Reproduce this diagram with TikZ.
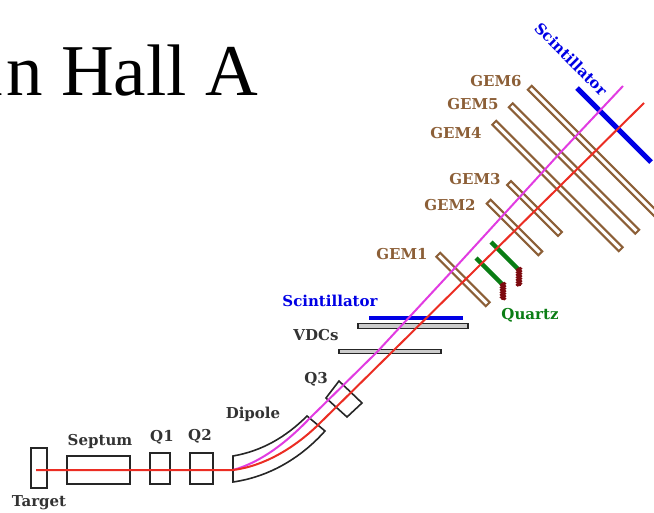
\documentclass[tikz,border=0pt]{standalone}
\usepackage{fontspec}
\setmainfont{Liberation Serif}
\newfontfamily\labelfont{DejaVu Serif}
\usetikzlibrary{decorations.pathmorphing}
\definecolor{gembrown}{RGB}{140,95,55}
\definecolor{quartzgreen}{RGB}{10,125,20}
\definecolor{beamred}{RGB}{235,45,35}
\definecolor{beammag}{RGB}{225,60,225}
\definecolor{pmtred}{RGB}{125,10,15}
\tikzset{
  mag/.style={draw=black!85,line width=1.6pt,fill=none},
  lab/.style={font=\labelfont\bfseries\fontsize{15}{16}\selectfont,inner sep=0pt,text=black!80},
  gem/.style={draw=gembrown,line width=2pt,fill=white,rotate=-45,minimum height=5.5pt,inner sep=0pt},
  vdc/.style={draw=black!85,line width=1.3pt,fill=black!20,minimum height=4.5pt,inner sep=0pt},
  scint/.style={draw=blue!90!black,line width=4pt},
  quartz/.style={draw=quartzgreen,line width=4.5pt},
  pmt/.style={draw=pmtred,line width=3.5pt,decorate,decoration={zigzag,amplitude=.8pt,segment length=2.5pt}},
}
\begin{document}
\begin{tikzpicture}[x=1pt,y=-1pt]
 \useasboundingbox (0,0) rectangle (654,513);

 \node[anchor=base east,inner sep=0pt,font=\fontsize{73}{73}\selectfont] (title) at (258,96) {a\kern3pt n Hall A};

 % beamline magnets
 \draw[mag] (31,448) rectangle (47,488);
 \draw[mag] (67,456) rectangle (130,484);
 \draw[mag] (150,453) rectangle (170,484);
 \draw[mag] (190,453) rectangle (213,484);
 \draw[mag] (233,456) .. controls (262,451) and (286,437) .. (307,416) -- (325,431)
    .. controls (300,459) and (268,477) .. (233,482) -- cycle;
 \draw[mag] (339,381) -- (362,403) -- (347,417) -- (326,398) -- cycle;

 % detectors
 \node[vdc,minimum width=110pt] (vdc1) at (413,326) {};
 \node[vdc,minimum width=102pt] (vdc2) at (390,351.5) {};
 \node[gem,minimum width=70pt] (gem1) at (463,279.5) {};
 \node[gem,minimum width=73pt] (gem2) at (514.5,227.5) {};
 \node[gem,minimum width=72pt] (gem3) at (534.5,208.5) {};
 \node[gem,minimum width=179pt] (gem4) at (557.5,186) {};
 \node[gem,minimum width=179pt] (gem5) at (574,168.5) {};
 \node[gem,minimum width=179pt] (gem6) at (593,151) {};

 \draw[scint] (369,318) -- (463,318);
 \draw[scint,line width=5pt] (577,88) -- (651,162);
 \draw[quartz] (476,258) -- (503,285);
 \draw[quartz] (491,242) -- (519,270);
 \draw[pmt] (503,283) -- (503,300);
 \draw[pmt] (519,268) -- (519,286);

 % beams
 \draw[beammag,line width=2pt] (233,470) .. controls (262,462) and (288,441) .. (310,418) -- (377,352) -- (453,270) -- (560,153) -- (623,86);
 \draw[beamred,line width=2pt] (36,470) -- (233,470) .. controls (265,466) and (295,447) .. (317,426) -- (392,352) -- (644,103);

 % labels
 \node[lab] (target) at (39,503) {Target};
 \node[lab] (septum) at (100,441) {Septum};
 \node[lab] (qone) at (162,437) {Q1};
 \node[lab] (qtwo) at (200,436) {Q2};
 \node[lab] (dipole) at (253,414) {Dipole};
 \node[lab] (qthree) at (316,379) {Q3};
 \node[lab] (vdcs) at (316,335) {VDCs};
 \node[lab,text=blue!90!black] (scintlow) at (330,301) {Scintillator};
 \node[lab,text=quartzgreen] (quartzlab) at (530,315) {Quartz};
 \node[lab,text=gembrown] (gemone) at (402,254) {GEM1};
 \node[lab,text=gembrown] (gemtwo) at (450,205) {GEM2};
 \node[lab,text=gembrown] (gemthree) at (475,179) {GEM3};
 \node[lab,text=gembrown] (gemfour) at (456,133) {GEM4};
 \node[lab,text=gembrown] (gemfive) at (473,104) {GEM5};
 \node[lab,text=gembrown] (gemsix) at (496,81) {GEM6};
 \node[lab,text=blue!90!black,rotate=-45] (scinttop) at (571,59) {Scintillator};
\end{tikzpicture}
\end{document}
